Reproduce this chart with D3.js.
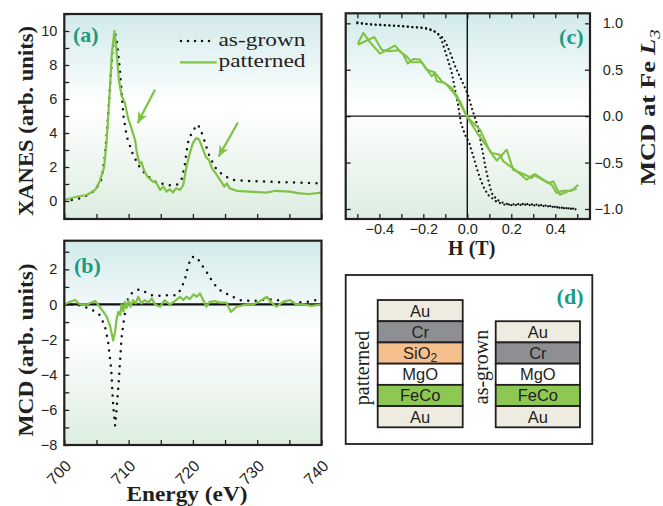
<!DOCTYPE html>
<html><head><meta charset="utf-8">
<script src="https://cdn.jsdelivr.net/npm/d3@7"></script>
<style>
html,body{margin:0;padding:0;background:#fff;}
svg{display:block;}
</style></head>
<body>
<script>
// ---------------- DATA ----------------
// (a) XANES
const xanesGrownE = [700,701,702.4,704,705,705.8,706.3,706.7,707.1,707.5,707.9,708.2,708.6,709.2,709.7,710.7,711.7,712.8,714.3,716.4,717.5,718.2,718.7,719.2,719.9,720.8,721.6,722.4,723.4,724.7,726.2,728.8,731.4,734,736.6,740];
const xanesGrownV = [0.02,0.05,0.16,0.4,0.75,1.3,2.6,4.4,6.7,8.9,9.9,9.3,7.9,5.0,3.8,2.7,2.0,1.5,1.1,0.92,0.95,1.2,2.0,3.4,4.1,4.5,3.8,2.8,2.0,1.5,1.24,1.18,1.14,1.1,1.08,1.04];
const xanesPatE = [700,701.9,703.5,704.8,705.5,706.2,706.6,707,707.4,707.8,708.1,708.5,708.9,709.4,709.9,710.5,711,711.3,711.7,712,712.4,713,713.8,714.3,714.9,715.4,715.9,716.4,716.9,717.4,718,718.5,719,719.5,720,720.5,721,721.5,722,722.5,723,723.6,724.4,724.9,725.3,725.7,726.8,728.8,731.4,732.9,735,736.6,738.1,740];
const xanesPatV = [0.06,0.25,0.35,0.65,1.14,2.0,3.6,6.0,8.7,10.0,8.9,7.1,6.2,5.8,4.9,4.2,3.6,2.8,2.2,2.3,1.8,1.4,1.14,1.08,0.65,0.85,0.55,0.69,0.5,0.75,0.65,0.94,2.0,2.8,3.4,3.7,3.6,3.1,2.6,2.4,1.9,1.6,1.14,0.85,1.04,0.75,0.6,0.55,0.49,0.6,0.55,0.45,0.41,0.49];
const arrowFromE = [714.1,727.0], arrowFromV = [6.54,4.62];
const arrowToE = [711.4,724.0], arrowToV = [4.58,2.61];
const legendLabels = ["as-grown","patterned"];

// (b) MCD spectra
const mcdGrownE = [700,701.9,703.6,704.8,705.5,706.3,706.8,707.3,707.6,707.9,708.1,708.5,708.9,709.3,709.7,710.2,710.7,711.7,712.5,713.6,714.9,716.4,717.5,718.2,718.8,719.3,719.8,720.6,721.3,722.1,723.2,724.2,725.8,727.3,729.4,731.5,733.5,735.6,737.7,740];
const mcdGrownV = [0.0,0.0,-0.2,-0.4,-0.6,-1.2,-2.1,-3.7,-5.75,-6.9,-6.1,-4.2,-1.9,-0.8,0.15,0.53,0.72,0.86,0.72,0.53,0.5,0.53,0.53,0.9,1.5,2.25,2.7,2.7,2.3,1.87,1.2,0.82,0.5,0.25,0.19,0.3,0.23,0.11,0.15,0.3];
const mcdPatE = [700,700.9,701.7,702.4,703.5,704.8,705.5,706.1,706.6,707.1,707.6,707.9,708.1,708.4,708.7,708.9,709.2,709.4,709.7,710,710.3,710.7,711.1,711.5,712,712.5,713.1,713.6,714.1,714.9,715.6,716.4,717.2,718,718.5,719,719.5,720.1,720.6,721.1,721.6,722.1,722.6,723.4,724.2,725.2,725.9,726.8,728.3,729.4,730.4,731.5,732.2,733,734,735.1,736.1,737.2,738.4,740];
const mcdPatV = [0,0.15,0.25,0,0,0.2,-0.13,-0.42,-0.7,-1.2,-2.05,-1.56,-0.9,-0.42,-0.6,0,-0.4,0.15,-0.2,0.25,-0.13,0.25,0.06,0.44,0.06,0.25,0.11,0.34,0,-0.13,0.25,0,0.19,0.44,0.25,0.44,0.3,0.57,0.44,0.63,0.25,-0.13,0.15,0.19,0.11,0.11,-0.42,-0.13,0,0,0.19,0.44,0.11,-0.13,0.15,0.25,0,0,-0.08,0];

// (c) hysteresis loops
const loopGrownDownH = [-0.5,-0.45,-0.4,-0.33,-0.25,-0.19,-0.155,-0.13,-0.116,-0.101,-0.086,-0.071,-0.056,-0.041,-0.029,-0.018,-0.007,0.008,0.015,0.027,0.043,0.058,0.073,0.095,0.134,0.171,0.21,0.247,0.323,0.38,0.429,0.49];
const loopGrownDownM = [1.01,0.99,0.985,0.975,0.96,0.95,0.925,0.88,0.81,0.70,0.59,0.47,0.29,0.11,-0.075,-0.15,-0.22,-0.28,-0.34,-0.43,-0.56,-0.67,-0.76,-0.85,-0.925,-0.954,-0.95,-0.946,-0.954,-0.97,-0.99,-0.997];
const loopGrownUpH = [-0.5,-0.4,-0.3,-0.2,-0.155,-0.109,-0.094,-0.074,-0.056,-0.033,-0.015,0.0,0.012,0.023,0.035,0.05,0.058,0.073,0.08,0.095,0.111,0.134,0.164,0.202,0.262,0.368,0.444,0.497];
const loopGrownUpM = [1.0,0.98,0.97,0.95,0.92,0.84,0.77,0.66,0.54,0.42,0.33,0.25,0.16,0.065,-0.02,-0.13,-0.24,-0.42,-0.52,-0.685,-0.83,-0.9,-0.935,-0.96,-0.954,-0.972,-0.99,-1.005];
const loopPatAH = [-0.498,-0.473,-0.442,-0.397,-0.329,-0.291,-0.271,-0.245,-0.215,-0.185,-0.15,-0.139,-0.101,-0.056,-0.01,0.005,0.058,0.103,0.134,0.179,0.209,0.262,0.293,0.308,0.345,0.384,0.406,0.436,0.474,0.505];
const loopPatAM = [0.78,0.896,0.795,0.673,0.76,0.663,0.566,0.616,0.609,0.50,0.473,0.376,0.358,0.232,0.035,-0.02,-0.147,-0.38,-0.48,-0.362,-0.577,-0.631,-0.667,-0.624,-0.685,-0.739,-0.828,-0.803,-0.803,-0.739];
const loopPatBH = [-0.498,-0.423,-0.389,-0.359,-0.314,-0.276,-0.253,-0.207,-0.162,-0.147,-0.116,-0.071,-0.033,-0.003,0.05,0.111,0.149,0.164,0.217,0.27,0.3,0.33,0.368,0.391,0.421,0.459,0.497];
const loopPatBM = [0.77,0.853,0.716,0.699,0.71,0.645,0.58,0.58,0.43,0.466,0.376,0.304,0.161,0.0,-0.2,-0.398,-0.416,-0.488,-0.577,-0.685,-0.631,-0.667,-0.72,-0.703,-0.846,-0.81,-0.782];

// tick labels
const ticksA = [0,2,4,6,8,10];
const ticksB = [-8,-6,-4,-2,0,2];
const ticksEnergy = [700,710,720,730,740];
const ticksCx = [-0.4,-0.2,0.0,0.2,0.4];
const ticksCy = [-1.0,-0.5,0.0,0.5,1.0];

// (d) layer stacks (top to bottom)
const stackPatterned = ["Au","Cr","SiO2","MgO","FeCo","Au"];
const stackGrown = ["Au","Cr","MgO","FeCo","Au"];
const layerColors = {Au:"#eeebe1", Cr:"#8e8f93", SiO2:"#f6bf8e", MgO:"#ffffff", FeCo:"#8dc853"};

// ---------------- STYLE ----------------
const GREEN = "#80c244", TEAL = "#1f9a80", INK = "#231f20";
const SERIF = "'Liberation Serif','Times New Roman',serif";
const SANS = "'Liberation Sans',Arial,sans-serif";

const svg = d3.select("body").append("svg").attr("width",663).attr("height",506);
const defs = svg.append("defs");
const grad = defs.append("linearGradient").attr("id","bg").attr("x1",0).attr("y1",0).attr("x2",0).attr("y2",1);
grad.append("stop").attr("offset","0%").attr("stop-color","#d2eaea");
grad.append("stop").attr("offset","45%").attr("stop-color","#ffffff");
grad.append("stop").attr("offset","100%").attr("stop-color","#ddede1");
const mk = defs.append("marker").attr("id","arr").attr("markerUnits","userSpaceOnUse")
  .attr("markerWidth",14).attr("markerHeight",14).attr("refX",11).attr("refY",0)
  .attr("viewBox","0 -7 14 14").attr("orient","auto");
mk.append("path").attr("d","M0,-5 L11,0 L0,5 L3,0 Z").attr("fill",GREEN);

function panelBg(x0,y0,x1,y1,id){
  svg.append("rect").attr("x",x0).attr("y",y0).attr("width",x1-x0).attr("height",y1-y0).attr("fill","url(#bg)");
  defs.append("clipPath").attr("id",id).append("rect").attr("x",x0).attr("y",y0).attr("width",x1-x0).attr("height",y1-y0);
}
function frame(x0,y0,x1,y1){
  svg.append("rect").attr("x",x0).attr("y",y0).attr("width",x1-x0).attr("height",y1-y0)
    .attr("fill","none").attr("stroke",INK).attr("stroke-width",2.2);
}
function styleAxis(g){
  g.select(".domain").remove();
  g.selectAll(".tick line").attr("stroke",INK).attr("stroke-width",1.3);
  g.selectAll(".tick text").attr("font-family",SANS).attr("font-size",14.5).attr("fill",INK);
}
const zip = (xs,ys) => xs.map((x,i)=>[x,ys[i]]);

// ---------------- PANEL (a) ----------------
const xA = d3.scaleLinear().domain([700,740]).range([64.3,321.5]);
const yA = d3.scaleLinear().domain([-1.06,11.0]).range([219,14]);
panelBg(64.3,14,321.5,219,"clipA");
svg.append("g").attr("transform","translate(64.3,0)")
  .call(d3.axisLeft(yA).tickValues(d3.range(-1,12)).tickSize(-5).tickPadding(7)
    .tickFormat(d => ticksA.includes(d) ? d : ""))
  .call(styleAxis);
svg.append("g").attr("transform","translate(0,219)")
  .call(d3.axisBottom(xA).tickValues(d3.range(700,741,5)).tickSize(-5).tickFormat(""))
  .call(styleAxis);
const lineA = d3.line().x(d=>xA(d[0])).y(d=>yA(d[1]));
const gA = svg.append("g").attr("clip-path","url(#clipA)");
gA.append("path").attr("d",lineA(zip(xanesGrownE,xanesGrownV))).attr("fill","none")
  .attr("stroke","#111").attr("stroke-width",2.5).attr("stroke-linecap","round").attr("stroke-dasharray","0 7.5");
gA.append("path").attr("d",lineA(zip(xanesPatE,xanesPatV))).attr("fill","none")
  .attr("stroke",GREEN).attr("stroke-width",2.2).attr("stroke-linejoin","round");
arrowFromE.forEach((e,i)=>{
  svg.append("line").attr("x1",xA(e)).attr("y1",yA(arrowFromV[i]))
    .attr("x2",xA(arrowToE[i])).attr("y2",yA(arrowToV[i]))
    .attr("stroke",GREEN).attr("stroke-width",2.2).attr("marker-end","url(#arr)");
});
frame(64.3,14,321.5,219);
// legend
svg.append("line").attr("x1",181).attr("x2",216).attr("y1",41).attr("y2",41)
  .attr("stroke","#111").attr("stroke-width",2.5).attr("stroke-linecap","round").attr("stroke-dasharray","0 7");
svg.append("line").attr("x1",180).attr("x2",216.7).attr("y1",62.3).attr("y2",62.3)
  .attr("stroke",GREEN).attr("stroke-width",2.2);
legendLabels.forEach((t,i)=>{
  svg.append("text").attr("x",218.5).attr("y",[45.5,67][i]).text(t)
    .attr("font-family",SERIF).attr("font-size",19.5).attr("fill",INK)
    .attr("textLength",87).attr("lengthAdjust","spacingAndGlyphs");
});
svg.append("text").attr("x",73).attr("y",41.5).text("(a)").attr("font-family",SERIF)
  .attr("font-weight","bold").attr("font-size",22).attr("fill",TEAL);
svg.append("text").attr("transform","translate(32.5,121) rotate(-90)").attr("text-anchor","middle")
  .text("XANES (arb. units)").attr("font-family",SERIF).attr("font-weight","bold").attr("font-size",22)
  .attr("fill",INK).attr("textLength",190).attr("lengthAdjust","spacingAndGlyphs");

// ---------------- PANEL (b) ----------------
const xB = d3.scaleLinear().domain([700,740]).range([64.3,321.5]);
const yB = d3.scaleLinear().domain([-8,3.63]).range([445,240.7]);
panelBg(64.3,240.7,321.5,445,"clipB");
svg.append("g").attr("transform","translate(64.3,0)")
  .call(d3.axisLeft(yB).tickValues(d3.range(-8,4)).tickSize(-5).tickPadding(7)
    .tickFormat(d => ticksB.includes(d) ? d3.format("")(d) : ""))
  .call(styleAxis);
svg.append("g").attr("transform","translate(0,445)")
  .call(d3.axisBottom(xB).tickValues(d3.range(700,741,5)).tickSize(-5).tickFormat(""))
  .call(styleAxis);
svg.append("g").selectAll("text").data(ticksEnergy).join("text")
  .attr("transform",d=>`translate(${xB(d)+8},467) rotate(-45)`).attr("text-anchor","end")
  .text(d=>d).attr("font-family",SANS).attr("font-size",16).attr("fill",INK);
const lineB = d3.line().x(d=>xB(d[0])).y(d=>yB(d[1]));
const gB = svg.append("g").attr("clip-path","url(#clipB)");
gB.append("line").attr("x1",64.3).attr("x2",321.5).attr("y1",yB(0)).attr("y2",yB(0))
  .attr("stroke","#111").attr("stroke-width",2.2);
gB.append("path").attr("d",lineB(zip(mcdGrownE,mcdGrownV))).attr("fill","none")
  .attr("stroke","#111").attr("stroke-width",2.5).attr("stroke-linecap","round").attr("stroke-dasharray","0 7.5");
gB.append("path").attr("d",lineB(zip(mcdPatE,mcdPatV))).attr("fill","none")
  .attr("stroke",GREEN).attr("stroke-width",2.2).attr("stroke-linejoin","round");
frame(64.3,240.7,321.5,445);
svg.append("text").attr("x",74).attr("y",272.5).text("(b)").attr("font-family",SERIF)
  .attr("font-weight","bold").attr("font-size",22).attr("fill",TEAL);
svg.append("text").attr("transform","translate(32.5,350) rotate(-90)").attr("text-anchor","middle")
  .text("MCD (arb. units)").attr("font-family",SERIF).attr("font-weight","bold").attr("font-size",22)
  .attr("fill",INK).attr("textLength",173).attr("lengthAdjust","spacingAndGlyphs");
svg.append("text").attr("x",187).attr("y",501).attr("text-anchor","middle")
  .text("Energy (eV)").attr("font-family",SERIF).attr("font-weight","bold").attr("font-size",21)
  .attr("fill",INK).attr("textLength",121).attr("lengthAdjust","spacingAndGlyphs");

// ---------------- PANEL (c) ----------------
const xC = d3.scaleLinear().domain([-0.553,0.558]).range([345.7,590]);
const yC = d3.scaleLinear().domain([-1.108,1.108]).range([219,13.3]);
panelBg(345.7,13.3,590,219,"clipC");
const fmt1 = d3.format(".1f");
const minorX = d3.range(-5,6).map(v=>v/10);
svg.append("g").attr("transform","translate(0,219)")
  .call(d3.axisBottom(xC).tickValues(minorX).tickSize(-5).tickPadding(5)
    .tickFormat(d => ticksCx.some(t=>Math.abs(t-d)<1e-9) ? fmt1(d) : ""))
  .call(styleAxis);
svg.append("g").attr("transform","translate(0,13.3)")
  .call(d3.axisTop(xC).tickValues(minorX).tickSize(-5).tickFormat(""))
  .call(styleAxis);
svg.append("g").attr("transform","translate(345.7,0)")
  .call(d3.axisLeft(yC).tickValues(ticksCy).tickSize(-5).tickFormat(""))
  .call(styleAxis);
const rAx = svg.append("g").attr("transform","translate(590,0)")
  .call(d3.axisRight(yC).tickValues(ticksCy).tickSize(-5).tickFormat(fmt1))
  .call(styleAxis);
rAx.selectAll(".tick text").attr("text-anchor","end").attr("x",33);
const lineC = d3.line().x(d=>xC(d[0])).y(d=>yC(d[1]));
const gC = svg.append("g").attr("clip-path","url(#clipC)");
gC.append("line").attr("x1",xC(0)).attr("x2",xC(0)).attr("y1",13.3).attr("y2",219).attr("stroke","#111").attr("stroke-width",1.4);
gC.append("line").attr("x1",345.7).attr("x2",590).attr("y1",yC(0)).attr("y2",yC(0)).attr("stroke","#111").attr("stroke-width",1.4);
[[loopGrownDownH,loopGrownDownM],[loopGrownUpH,loopGrownUpM]].forEach(([h,m])=>{
  gC.append("path").attr("d",lineC(zip(h,m))).attr("fill","none").attr("stroke","#111")
    .attr("stroke-width",2.3).attr("stroke-linecap","round").attr("stroke-dasharray","0 4.6");
});
[[loopPatAH,loopPatAM],[loopPatBH,loopPatBM]].forEach(([h,m])=>{
  gC.append("path").attr("d",lineC(zip(h,m))).attr("fill","none").attr("stroke",GREEN)
    .attr("stroke-width",2.1).attr("stroke-linejoin","round");
});
frame(345.7,13.3,590,219);
svg.append("text").attr("x",583.5).attr("y",44).attr("text-anchor","end").text("(c)").attr("font-family",SERIF)
  .attr("font-weight","bold").attr("font-size",22).attr("fill",TEAL);
svg.append("text").attr("x",471.7).attr("y",254.5).attr("text-anchor","middle")
  .text("H (T)").attr("font-family",SERIF).attr("font-weight","bold").attr("font-size",20)
  .attr("fill",INK);
const yl = svg.append("text").attr("transform","translate(655,107.5) rotate(-90)").attr("text-anchor","middle")
  .attr("font-family",SERIF).attr("font-weight","bold").attr("font-size",21).attr("fill",INK)
  .attr("textLength",156).attr("lengthAdjust","spacingAndGlyphs");
yl.append("tspan").text("MCD at Fe ");
yl.append("tspan").text("L").attr("font-style","italic");
yl.append("tspan").text("3").attr("font-style","italic").attr("font-weight","normal").attr("font-size",15).attr("dy",5);

// ---------------- PANEL (d) ----------------
svg.append("rect").attr("x",345.7).attr("y",275).attr("width",246.6).attr("height",169)
  .attr("fill","#fff").attr("stroke",INK).attr("stroke-width",1.8);
svg.append("text").attr("x",583.5).attr("y",304).attr("text-anchor","end").text("(d)").attr("font-family",SERIF)
  .attr("font-weight","bold").attr("font-size",22).attr("fill",TEAL);
const layerY = d3.scaleLinear().domain([0,6]).range([427.3,300]); // index from bottom
function drawStack(stack,x0,x1){
  const n = stack.length;
  const g = svg.append("g");
  stack.forEach((name,i)=>{
    const fromBottom = n-1-i;
    const yTop = layerY(fromBottom+1), yBot = layerY(fromBottom);
    g.append("rect").attr("x",x0).attr("y",yTop).attr("width",x1-x0).attr("height",yBot-yTop)
      .attr("fill",layerColors[name]).attr("stroke",INK).attr("stroke-width",1.8);
    const t = g.append("text").attr("x",(x0+x1)/2).attr("y",(yTop+yBot)/2+6).attr("text-anchor","middle")
      .attr("font-family",SANS).attr("font-size",16.5).attr("fill",INK);
    if(name==="SiO2"){ t.append("tspan").text("SiO"); t.append("tspan").text("2").attr("font-size",12).attr("dy",3); }
    else t.text(name);
  });
}
drawStack(stackPatterned,377.7,462.7);
drawStack(stackGrown,495.7,580);
svg.append("text").attr("transform","translate(369,368) rotate(-90)").attr("text-anchor","middle")
  .text("patterned").attr("font-family",SERIF).attr("font-size",20).attr("fill",INK);
svg.append("text").attr("transform","translate(487.5,367) rotate(-90)").attr("text-anchor","middle")
  .text("as-grown").attr("font-family",SERIF).attr("font-size",20).attr("fill",INK);
</script>
</body></html>
